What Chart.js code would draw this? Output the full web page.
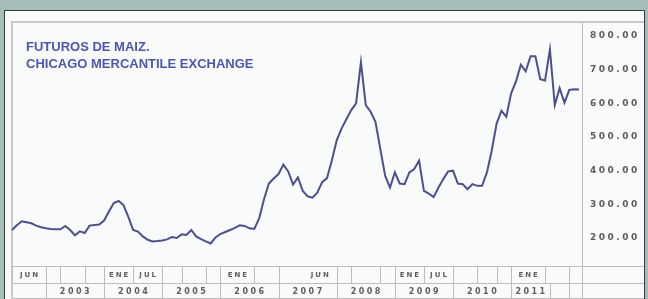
<!DOCTYPE html>
<html>
<head>
<meta charset="utf-8">
<script src="https://cdn.jsdelivr.net/npm/chart.js@4.4.0/dist/chart.umd.min.js"></script>
<style>
  html, body { margin: 0; padding: 0; background: #a7bdb9; }
  #wrap { width: 648px; height: 299px; position: relative; }
</style>
</head>
<body>
<div id="wrap"><canvas id="maiz" width="648" height="299"></canvas></div>
<script>
// Futuros de maiz (US$), mensual desde junio 2002
const firstMonth = { year: 2002, month: 5 };
const maizPrice = [
  224, 238, 250, 247, 244, 237, 232, 229, 227, 226,
  226, 236, 224, 208, 220, 215, 237, 239, 240, 252,
  279, 304, 310, 298, 263, 224, 219, 205, 195, 190,
  191, 193, 196, 203, 200, 211, 209, 224, 205, 197,
  190, 184, 202, 212, 218, 224, 230, 238, 236, 229,
  227, 258, 315, 362, 377, 390, 418, 398, 359, 380,
  340, 324, 320, 335, 366, 378, 430, 490, 525, 553,
  580, 600, 722, 595, 575, 545, 465, 385, 350, 395,
  362, 360, 395, 405, 430, 340, 332, 322, 350, 375,
  398, 400, 362, 360, 345, 360, 355, 355, 395, 460,
  540, 578, 560, 630, 665, 715, 695, 740, 740, 672,
  668, 760, 595, 645, 602, 640, 642, 641
];
const mesNombre = ['ENE', 'FEB', 'MAR', 'ABR', 'MAY', 'JUN', 'JUL', 'AGO', 'SEP', 'OCT', 'NOV', 'DIC'];
const months = maizPrice.map((_, i) => {
  const m = firstMonth.month + i;
  return mesNombre[m % 12] + ' ' + (firstMonth.year + Math.floor(m / 12));
});

const yTicks = [200, 300, 400, 500, 600, 700, 800];

// tabla inferior (indices de mes)
const monthBreaks = [0, 7, 10, 15, 19, 25, 31, 35, 40, 43, 50, 55, 67, 70, 76, 79, 85, 91, 96, 100, 103, 110, 115];
const monthLabels = [
  ['JUN', 0, 7], ['ENE', 19, 25], ['JUL', 25, 31], ['ENE', 43, 50],
  ['JUN', 60, 67], ['ENE', 79, 85], ['JUL', 85, 91], ['ENE', 103, 110]
];
const yearBreaks = [7, 19, 31, 43, 55, 67, 79, 91, 103, 111, 115];
const yearLabels = ['2003', '2004', '2005', '2006', '2007', '2008', '2009', '2010', '2011'];

const titleLines = ['FUTUROS DE MAIZ.', 'CHICAGO MERCANTILE EXCHANGE'];

const panelPlugin = {
  id: 'panel',
  beforeDraw(chart) {
    const ctx = chart.ctx;
    const a = chart.chartArea;
    const x = chart.scales.x;
    const px = (i) => Math.round(x.getPixelForValue(i)) + 0.5;
    const rightCol = a.right + 3.5;
    const tTop = a.bottom + 0.5, tMid = 283.5, tBot = 298.5;

    ctx.save();
    ctx.fillStyle = '#f9fbfb';
    ctx.fillRect(4, 10, 641, 289);
    ctx.strokeStyle = '#3a3a3a';
    ctx.lineWidth = 1;
    ctx.strokeRect(4.5, 10.5, 640, 300);

    // marco interior
    ctx.strokeStyle = '#c9c9c9';
    ctx.lineWidth = 2;
    ctx.beginPath();
    ctx.moveTo(12, tBot); ctx.lineTo(12, 22); ctx.lineTo(644, 22);
    ctx.stroke();

    ctx.lineWidth = 1;
    ctx.strokeStyle = '#bdbdbd';
    ctx.beginPath();
    ctx.moveTo(rightCol, 22); ctx.lineTo(rightCol, tBot);
    ctx.moveTo(12, tTop); ctx.lineTo(644, tTop);
    ctx.moveTo(12, tMid); ctx.lineTo(644, tMid);
    ctx.moveTo(12, tBot); ctx.lineTo(644, tBot);
    monthBreaks.forEach((i) => { ctx.moveTo(px(i), tTop); ctx.lineTo(px(i), tMid); });
    yearBreaks.forEach((i) => { ctx.moveTo(px(i), tMid); ctx.lineTo(px(i), tBot); });
    ctx.stroke();

    ctx.fillStyle = '#5e5e5e';
    ctx.textAlign = 'center';
    ctx.textBaseline = 'middle';
    ctx.font = 'bold 7px "DejaVu Sans"';
    ctx.letterSpacing = '2px';
    monthLabels.forEach(([t, s, e]) => {
      ctx.fillText(t, (x.getPixelForValue(s) + x.getPixelForValue(e)) / 2 + 1, (tTop + tMid) / 2);
    });
    ctx.font = 'bold 8px "DejaVu Sans"';
    ctx.letterSpacing = '2.5px';
    yearLabels.forEach((t, k) => {
      const s = yearBreaks[k], e = yearBreaks[k + 1];
      ctx.fillText(t, (x.getPixelForValue(s) + x.getPixelForValue(e)) / 2 + 1, (tMid + tBot) / 2 + 1);
    });
    ctx.restore();
    ctx.letterSpacing = '2.5px';
  },
  afterDraw(chart) {
    const ctx = chart.ctx;
    ctx.save();
    ctx.letterSpacing = '0px';
    ctx.fillStyle = '#4c56ad';
    ctx.font = 'bold 13px "Liberation Sans"';
    ctx.textAlign = 'left';
    ctx.textBaseline = 'alphabetic';
    ctx.fillText(titleLines[0], 26, 51);
    ctx.fillText(titleLines[1], 26, 68);
    ctx.restore();
  }
};

new Chart(document.getElementById('maiz'), {
  type: 'line',
  data: {
    labels: months,
    datasets: [{
      data: maizPrice,
      borderColor: '#4f4e8f',
      borderWidth: 2,
      pointRadius: 0,
      tension: 0,
      fill: false
    }]
  },
  options: {
    responsive: false,
    animation: false,
    events: [],
    layout: { padding: { left: 12, top: 22, right: 3, bottom: 33 } },
    plugins: { legend: { display: false }, tooltip: { enabled: false } },
    scales: {
      x: { type: 'category', display: false, offset: false },
      y: {
        position: 'right',
        min: 117,
        max: 841.6,
        afterBuildTicks: (axis) => { axis.ticks = yTicks.map((v) => ({ value: v })); },
        afterFit: (axis) => { axis.width = 66; },
        grid: { display: false, drawTicks: false },
        border: { display: false },
        ticks: {
          padding: 11,
          color: '#5c5c5c',
          font: { family: 'DejaVu Sans', size: 9, weight: 'bold' },
          callback: (v) => v.toFixed(2)
        }
      }
    }
  },
  plugins: [panelPlugin]
});
</script>
</body>
</html>
